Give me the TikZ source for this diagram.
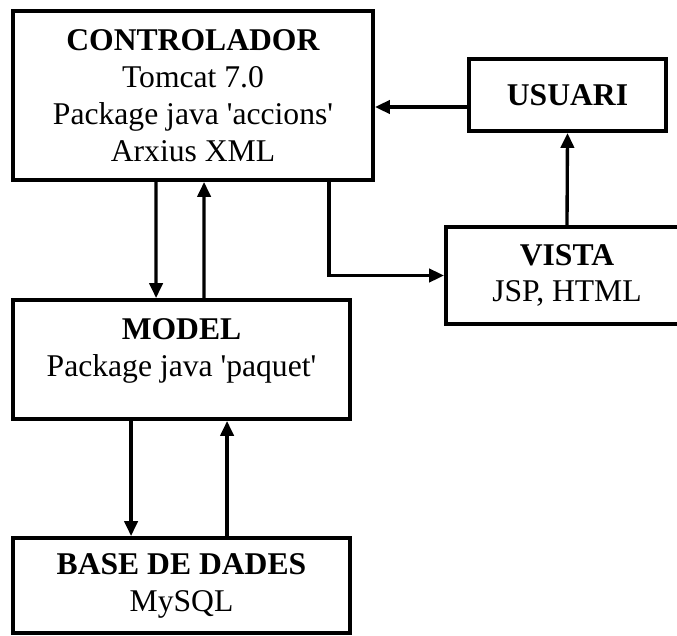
\documentclass[tikz,border=0pt]{standalone}
\usepackage{fontspec}
\setmainfont{Liberation Serif}
\usetikzlibrary{arrows.meta}

\begin{document}
\begin{tikzpicture}[
  box/.style={
    draw,
    line width=2.2pt,
    align=center,
    font=\fontsize{18pt}{21pt}\selectfont,
  },
  arr/.style={
    line width=1.9pt,
    -{Triangle[length=8.5pt,width=7.5pt]},
  }
]
\useasboundingbox (0,0) rectangle (13.54,-12.7);

\node[box, minimum width=7.2cm, minimum height=3.38cm] (ctrl) at (3.86,-1.91)
  {\textbf{CONTROLADOR}\\Tomcat 7.0\\Package java \textquotesingle accions\textquotesingle\\Arxius XML};
\node[box, minimum width=3.94cm, minimum height=1.44cm] (usuari) at (11.35,-1.90)
  {\textbf{USUARI}};
\node[box, minimum width=4.84cm, minimum height=1.94cm] (vista) at (11.34,-5.51)
  {\textbf{VISTA}\\JSP, HTML};
\node[box, minimum width=6.74cm, minimum height=2.38cm] (model) at (3.63,-7.19)
  {\textbf{MODEL}\\Package java \textquotesingle paquet\textquotesingle\\[-14pt]\strut};
\node[box, minimum width=6.74cm, minimum height=1.90cm] (bd) at (3.63,-11.71)
  {\textbf{BASE DE DADES}\\MySQL};

\draw[arr] ([xshift=2.9cm]ctrl.south west) -- ([xshift=2.9cm]model.north west);
\draw[arr] ([xshift=3.86cm]model.north west) -- ([xshift=3.86cm]ctrl.south west);
\draw[arr] ([xshift=2.4cm]model.south west) -- ([xshift=2.4cm]bd.north west);
\draw[arr] ([xshift=4.32cm]bd.north west) -- ([xshift=4.32cm]model.south west);
\draw[arr] ([xshift=-0.92cm]ctrl.south east) |- (vista.west);
\draw[arr] (vista.north) -- (usuari.south);
\draw[arr] ([yshift=-0.24cm]usuari.west) -- ([yshift=-0.24cm]usuari.west -| ctrl.east);
\end{tikzpicture}
\end{document}
